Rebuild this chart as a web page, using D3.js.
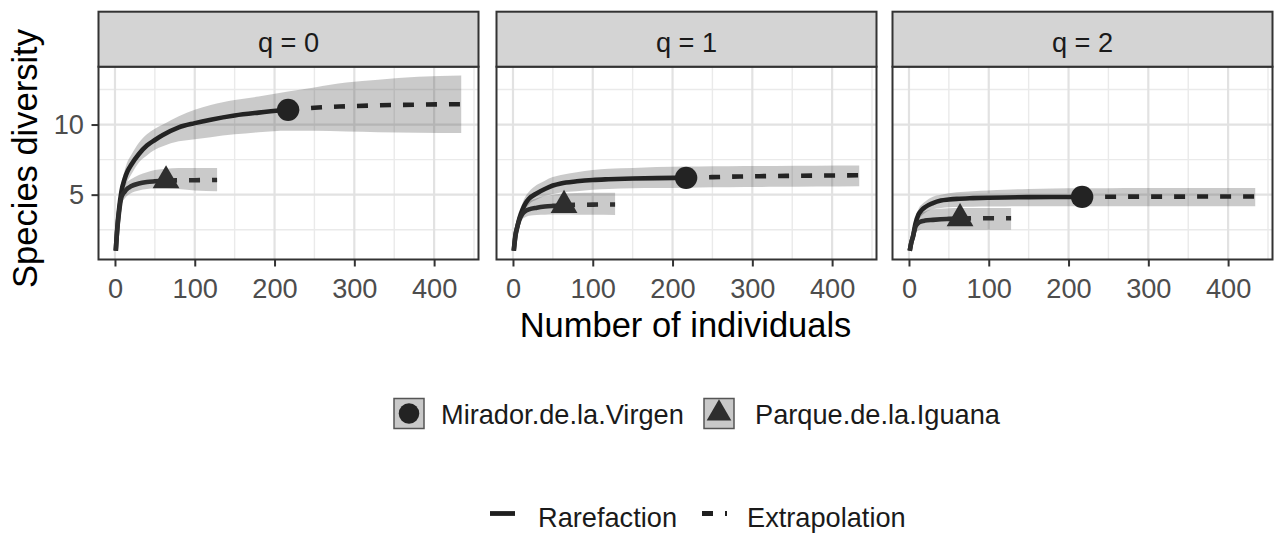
<!DOCTYPE html>
<html>
<head>
<meta charset="utf-8">
<script src="https://cdn.jsdelivr.net/npm/d3@7"></script>
<style>
  body { margin: 0; background: #ffffff; }
  svg { display: block; font-family: "Liberation Sans", Arial, sans-serif; }
</style>
</head>
<body>
<svg id="chart" width="1275" height="533"></svg>
<script>
// ---- Facets, sites and tick labels ----
const orders = ["q = 0", "q = 1", "q = 2"];
const sites = ["Mirador.de.la.Virgen", "Parque.de.la.Iguana"];
const methods = ["Rarefaction", "Extrapolation"];
const xTicks = [0, 100, 200, 300, 400];
const yTicks = [5, 10];

// ---- Sample sizes (number of individuals) ----
const sizesMirador = [1, 3, 5, 8, 12, 16, 20, 30, 40, 50, 60, 80, 100, 120, 150, 180, 217, 250, 290, 330, 380, 434];
const observedMirador = 217;
const sizesParque = [1, 3, 5, 8, 12, 16, 20, 30, 40, 50, 64, 80, 100, 128];
const observedParque = 64;

// ---- Mirador.de.la.Virgen: estimates and 95% bounds for q = 0, 1, 2 ----
const mirQ0 = [1, 2.7, 3.9, 5.2, 6.1, 6.7, 7.1, 7.9, 8.5, 8.9, 9.25, 9.8, 10.1, 10.35, 10.65, 10.85, 11.05, 11.2, 11.3, 11.37, 11.42, 11.45];
const mirQ0Lo = [1, 2.4, 3.5, 4.7, 5.5, 6.0, 6.4, 7.3, 7.8, 8.2, 8.45, 8.8, 8.95, 9.1, 9.3, 9.45, 9.55, 9.55, 9.5, 9.45, 9.42, 9.4];
const mirQ0Hi = [1, 3.0, 4.3, 5.7, 6.7, 7.4, 7.8, 8.7, 9.3, 9.7, 10.0, 10.6, 11.05, 11.4, 11.75, 12.0, 12.35, 12.65, 13.0, 13.2, 13.4, 13.5];

const mirQ1 = [1, 2.1, 2.6, 3.3, 3.95, 4.4, 4.7, 5.1, 5.4, 5.65, 5.8, 5.95, 6.05, 6.1, 6.15, 6.18, 6.2, 6.25, 6.3, 6.33, 6.36, 6.38];
const mirQ1Lo = [1, 1.9, 2.3, 3.0, 3.6, 4.0, 4.3, 4.65, 4.9, 5.05, 5.15, 5.25, 5.35, 5.4, 5.45, 5.47, 5.5, 5.52, 5.54, 5.56, 5.58, 5.6];
const mirQ1Hi = [1, 2.3, 2.9, 3.6, 4.4, 4.9, 5.2, 5.7, 6.0, 6.25, 6.4, 6.6, 6.75, 6.85, 6.9, 6.97, 7.0, 7.02, 7.04, 7.05, 7.06, 7.07];

const mirQ2 = [1, 1.6, 2.0, 2.9, 3.6, 3.9, 4.1, 4.4, 4.58, 4.65, 4.7, 4.75, 4.78, 4.8, 4.82, 4.83, 4.84, 4.85, 4.86, 4.86, 4.87, 4.87];
const mirQ2Lo = [1, 1.5, 1.8, 2.6, 3.2, 3.5, 3.7, 3.95, 4.05, 4.1, 4.12, 4.14, 4.15, 4.16, 4.17, 4.17, 4.17, 4.17, 4.17, 4.17, 4.17, 4.17];
const mirQ2Hi = [1, 1.7, 2.2, 3.2, 4.0, 4.3, 4.5, 4.85, 5.0, 5.1, 5.17, 5.25, 5.3, 5.35, 5.4, 5.43, 5.45, 5.46, 5.47, 5.47, 5.48, 5.48];

// ---- Parque.de.la.Iguana: estimates and 95% bounds for q = 0, 1, 2 ----
const parQ0 = [1, 2.6, 3.7, 4.8, 5.2, 5.45, 5.6, 5.8, 5.9, 5.95, 6.0, 6.02, 6.03, 6.05];
const parQ0Lo = [1, 2.3, 3.3, 4.3, 4.7, 4.95, 5.1, 5.3, 5.4, 5.45, 5.45, 5.4, 5.3, 5.25];
const parQ0Hi = [1, 2.9, 4.1, 5.3, 5.7, 5.95, 6.1, 6.4, 6.6, 6.75, 6.85, 6.9, 6.9, 6.9];

const parQ1 = [1, 2.0, 2.6, 3.2, 3.65, 3.85, 3.95, 4.07, 4.15, 4.2, 4.25, 4.27, 4.29, 4.3];
const parQ1Lo = [1, 1.8, 2.3, 2.9, 3.25, 3.4, 3.5, 3.55, 3.57, 3.58, 3.58, 3.57, 3.56, 3.55];
const parQ1Hi = [1, 2.2, 2.9, 3.5, 4.0, 4.3, 4.5, 4.75, 4.9, 5.0, 5.08, 5.12, 5.13, 5.14];

const parQ2 = [1, 1.6, 2.0, 2.7, 3.0, 3.1, 3.15, 3.2, 3.24, 3.27, 3.3, 3.31, 3.32, 3.32];
const parQ2Lo = [1, 1.5, 1.8, 2.3, 2.45, 2.5, 2.5, 2.5, 2.5, 2.5, 2.5, 2.5, 2.5, 2.5];
const parQ2Hi = [1, 1.7, 2.2, 3.1, 3.5, 3.7, 3.8, 3.95, 4.0, 4.03, 4.05, 4.05, 4.05, 4.05];

// ---- Assemble per-site series ----
const series = [
  { name: sites[0], sizes: sizesMirador, observed: observedMirador, shape: d3.symbolCircle, size: 390, line: "#232323",
    est: [mirQ0, mirQ1, mirQ2], lo: [mirQ0Lo, mirQ1Lo, mirQ2Lo], hi: [mirQ0Hi, mirQ1Hi, mirQ2Hi] },
  { name: sites[1], sizes: sizesParque, observed: observedParque, shape: d3.symbolTriangle, size: 310, line: "#2e2e2e",
    est: [parQ0, parQ1, parQ2], lo: [parQ0Lo, parQ1Lo, parQ2Lo], hi: [parQ0Hi, parQ1Hi, parQ2Hi] }
];

// ---- Layout ----
const panelLefts = [98.5, 496.5, 892.5];
const panelW = 380;
const stripTop = 11.7, stripBottom = 66.7, panelBottom = 259.5;
const fontTick = 27.2, fontTitle = 34.5;
const curveWidth = 4.6;

const svg = d3.select("#chart");

// Shared scales (ggplot-style 5% expansion)
const allSizes = series.flatMap(s => s.sizes);
const [xMin, xMax] = d3.extent(allSizes);
const xPad = (xMax - xMin) * 0.05;
const allLo = series.flatMap(s => s.lo.flat());
const allHi = series.flatMap(s => s.hi.flat());
const yMin = d3.min(allLo), yMax = d3.max(allHi);
const yPad = (yMax - yMin) * 0.05;

const y = d3.scaleLinear().domain([yMin - yPad, yMax + yPad]).range([panelBottom, stripBottom]);

const bandFill = "#3c3c3c", bandOpacity = 0.27;

orders.forEach((label, qi) => {
  const left = panelLefts[qi];
  const x = d3.scaleLinear().domain([xMin - xPad, xMax + xPad]).range([left, left + panelW]);
  const g = svg.append("g");

  // panel background
  g.append("rect").attr("x", left).attr("y", stripBottom).attr("width", panelW)
    .attr("height", panelBottom - stripBottom).attr("fill", "#ffffff");

  // grid: minor then major
  const xMinor = [50, 150, 250, 350, 450].filter(v => v > x.domain()[0] && v < x.domain()[1]);
  const yMinor = [2.5, 7.5, 12.5];
  g.selectAll(".gxm").data(xMinor).join("line")
    .attr("x1", d => x(d)).attr("x2", d => x(d)).attr("y1", stripBottom).attr("y2", panelBottom)
    .attr("stroke", "#eaeaea").attr("stroke-width", 1.4);
  g.selectAll(".gym").data(yMinor).join("line")
    .attr("x1", left).attr("x2", left + panelW).attr("y1", d => y(d)).attr("y2", d => y(d))
    .attr("stroke", "#eaeaea").attr("stroke-width", 1.4);
  g.selectAll(".gx").data(xTicks).join("line")
    .attr("x1", d => x(d)).attr("x2", d => x(d)).attr("y1", stripBottom).attr("y2", panelBottom)
    .attr("stroke", "#e2e2e2").attr("stroke-width", 2.2);
  g.selectAll(".gy").data(yTicks).join("line")
    .attr("x1", left).attr("x2", left + panelW).attr("y1", d => y(d)).attr("y2", d => y(d))
    .attr("stroke", "#e2e2e2").attr("stroke-width", 2.2);

  // confidence bands
  series.forEach(s => {
    const pts = s.sizes.map((m, i) => ({ m, lo: s.lo[qi][i], hi: s.hi[qi][i] }));
    const area = d3.area().x(d => x(d.m)).y0(d => y(d.lo)).y1(d => y(d.hi)).curve(d3.curveMonotoneX);
    g.append("path").datum(pts).attr("d", area).attr("fill", bandFill).attr("fill-opacity", bandOpacity);
  });

  // rarefaction (solid) and extrapolation (dashed) curves, then observed points
  series.forEach(s => {
    const pts = s.sizes.map((m, i) => ({ m, v: s.est[qi][i] }));
    const line = d3.line().x(d => x(d.m)).y(d => y(d.v)).curve(d3.curveMonotoneX);
    const rare = pts.filter(d => d.m <= s.observed);
    const extra = pts.filter(d => d.m >= s.observed);
    g.append("path").datum(rare).attr("d", line).attr("fill", "none")
      .attr("stroke", s.line).attr("stroke-width", curveWidth).attr("stroke-linejoin", "round");
    g.append("path").datum(extra).attr("d", line).attr("fill", "none")
      .attr("stroke", s.line).attr("stroke-width", curveWidth).attr("stroke-dasharray", "11 12");
    const obs = pts.find(d => d.m === s.observed);
    g.append("path").attr("d", d3.symbol().type(s.shape).size(s.size)())
      .attr("transform", `translate(${x(obs.m)},${y(obs.v)})`).attr("fill", s.line);
  });

  // panel border
  g.append("rect").attr("x", left).attr("y", stripBottom).attr("width", panelW)
    .attr("height", panelBottom - stripBottom).attr("fill", "none")
    .attr("stroke", "#333333").attr("stroke-width", 2);

  // strip
  g.append("rect").attr("x", left).attr("y", stripTop).attr("width", panelW)
    .attr("height", stripBottom - stripTop).attr("fill", "#d4d4d4")
    .attr("stroke", "#333333").attr("stroke-width", 2);
  g.append("text").attr("x", left + panelW / 2).attr("y", 52).attr("text-anchor", "middle")
    .attr("font-size", fontTick).attr("fill", "#1a1a1a").text(label);

  // x axis
  const xa = svg.append("g").attr("transform", `translate(0,${panelBottom})`)
    .call(d3.axisBottom(x).tickValues(xTicks).tickSize(7).tickPadding(12).tickFormat(d3.format("d")));
  xa.select(".domain").remove();
  xa.selectAll(".tick line").attr("stroke", "#333333").attr("stroke-width", 2);
  xa.selectAll(".tick text").attr("font-size", fontTick).attr("fill", "#4d4d4d")
    .attr("font-family", "Liberation Sans, Arial, sans-serif");

  // y axis on first panel only
  if (qi === 0) {
    const ya = svg.append("g").attr("transform", `translate(${left},0)`)
      .call(d3.axisLeft(y).tickValues(yTicks).tickSize(7).tickPadding(7.5));
    ya.select(".domain").remove();
    ya.selectAll(".tick line").attr("stroke", "#333333").attr("stroke-width", 2);
    ya.selectAll(".tick text").attr("font-size", fontTick).attr("fill", "#4d4d4d")
      .attr("font-family", "Liberation Sans, Arial, sans-serif");
  }
});

// axis titles
svg.append("text").attr("x", (panelLefts[0] + panelLefts[2] + panelW) / 2).attr("y", 337)
  .attr("text-anchor", "middle").attr("font-size", fontTitle).attr("fill", "#000").text("Number of individuals");
svg.append("text").attr("transform", "translate(37,158.5) rotate(-90)")
  .attr("text-anchor", "middle").attr("font-size", fontTitle).attr("fill", "#000").text("Species diversity");

// ---- Legend: sites ----
const siteKeys = [
  { x: 394, textX: 441 },
  { x: 704, textX: 755 }
];
series.forEach((s, i) => {
  const k = siteKeys[i];
  const lg = svg.append("g");
  lg.append("rect").attr("x", k.x).attr("y", 398.5).attr("width", 30).attr("height", 30)
    .attr("fill", "#c9c9c9").attr("stroke", "#555555").attr("stroke-width", 1.5);
  lg.append("path").attr("d", d3.symbol().type(s.shape).size(s.size * 0.85)())
    .attr("transform", `translate(${k.x + 15},${413.5})`).attr("fill", s.line);
  lg.append("text").attr("x", k.textX).attr("y", 423.5).attr("font-size", fontTick)
    .attr("fill", "#1a1a1a").text(s.name);
});

// ---- Legend: methods ----
const methodKeys = [
  { x: 490, textX: 538, dash: null },
  { x: 702, textX: 747, dash: "11 12" }
];
methods.forEach((m, i) => {
  const k = methodKeys[i];
  const ln = svg.append("line").attr("x1", k.x).attr("x2", k.x + 25).attr("y1", 513.5).attr("y2", 513.5)
    .attr("stroke", "#1f1f1f").attr("stroke-width", 4.8);
  if (k.dash) ln.attr("stroke-dasharray", k.dash);
  svg.append("text").attr("x", k.textX).attr("y", 527).attr("font-size", fontTick)
    .attr("fill", "#1a1a1a").text(m);
});
</script>
</body>
</html>
